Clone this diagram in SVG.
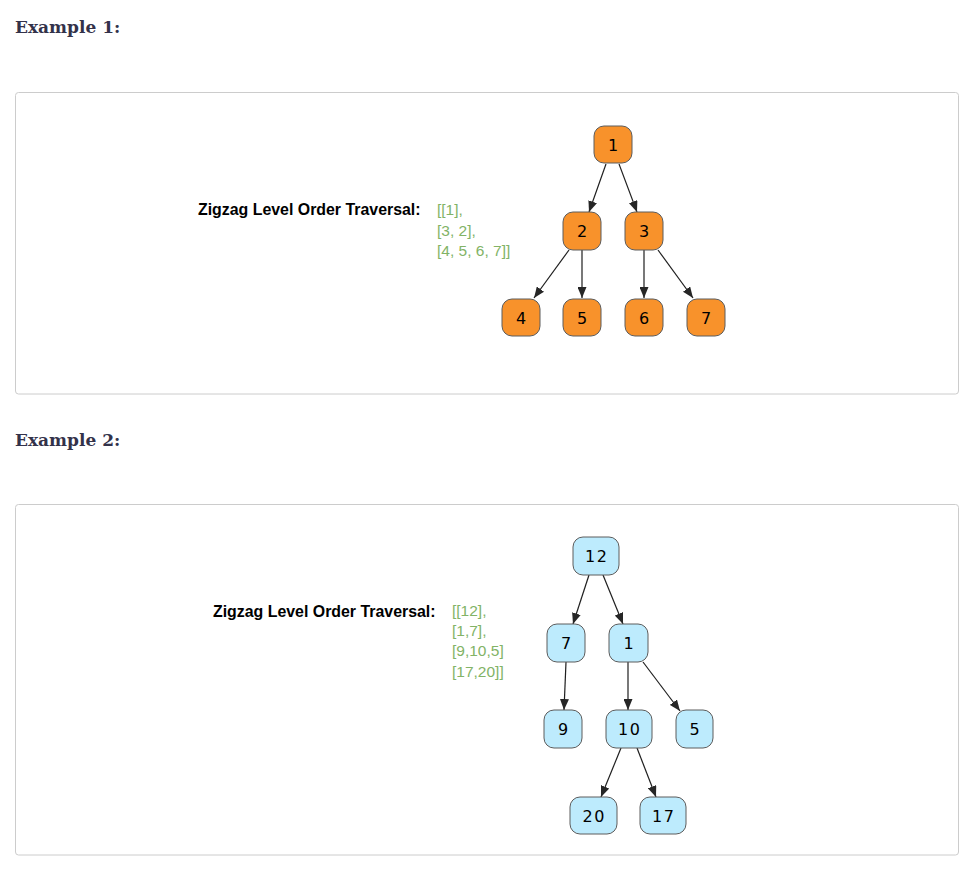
<svg xmlns="http://www.w3.org/2000/svg" width="972" height="888" viewBox="0 0 972 888">
<style>
.bg{fill:#ffffff}
.frame{fill:#ffffff;stroke:#cccccc;stroke-width:1}
.heading{font-family:"DejaVu Serif","Liberation Serif",serif;font-weight:bold;font-size:17px;fill:#33324a}
.label{font-family:"Liberation Sans",Arial,sans-serif;font-weight:bold;font-size:15.9px;fill:#000000}
.result{font-family:"Liberation Sans",Arial,sans-serif;font-size:15.5px;fill:#82b366}
.orange rect{fill:#f8922b;stroke:#5c5c5c;stroke-width:1}
.blue rect{fill:#bdebfd;stroke:#5c5c5c;stroke-width:1}
.node text{font-family:"DejaVu Sans",Verdana,sans-serif;font-size:16px;fill:#000000;text-anchor:middle}
.two{letter-spacing:1.5px}
.edge{stroke:#1f1f1f;stroke-width:1.2;fill:none;marker-end:url(#arrow)}
</style>
<defs>
<marker id="arrow" markerUnits="userSpaceOnUse" markerWidth="11" markerHeight="9" refX="11" refY="4.5" orient="auto">
<path d="M0,0 L11,4.5 L0,9 z" fill="#262626"/>
</marker>
</defs>
<rect class="bg" x="0" y="0" width="972" height="888"/>
<text class="heading" x="15" y="33">Example 1:</text>
<rect class="frame" x="15.5" y="92.5" width="943" height="301.5" rx="3"/>
<text class="heading" x="15" y="446">Example 2:</text>
<rect class="frame" x="15.5" y="504.5" width="943" height="350.5" rx="3"/>

<g id="label1">
<text class="label" x="198" y="215">Zigzag Level Order Traversal:</text>
<text class="result" x="437" y="215">[[1],</text>
<text class="result" x="437" y="235.5">[3, 2],</text>
<text class="result" x="437" y="256">[4, 5, 6, 7]]</text>
</g>
<g id="label2">
<text class="label" x="213" y="616.5">Zigzag Level Order Traversal:</text>
<text class="result" x="452" y="616">[[12],</text>
<text class="result" x="452" y="636.2">[1,7],</text>
<text class="result" x="452" y="656.4">[9,10,5]</text>
<text class="result" x="452" y="676.6">[17,20]]</text>
</g>

<g id="connectors">
<line class="edge" x1="606" y1="164" x2="589" y2="212"/>
<line class="edge" x1="619" y1="164" x2="637" y2="212"/>
<line class="edge" x1="569" y1="250" x2="534" y2="298"/>
<line class="edge" x1="582" y1="250" x2="582" y2="298"/>
<line class="edge" x1="644" y1="250" x2="644" y2="298"/>
<line class="edge" x1="658" y1="250" x2="693" y2="298"/>
<line class="edge" x1="589" y1="575" x2="573" y2="624"/>
<line class="edge" x1="603" y1="575" x2="623" y2="624"/>
<line class="edge" x1="566" y1="662" x2="564" y2="710"/>
<line class="edge" x1="628" y1="662" x2="628" y2="710"/>
<line class="edge" x1="643" y1="662" x2="680" y2="711"/>
<line class="edge" x1="621" y1="748" x2="601" y2="797"/>
<line class="edge" x1="637" y1="748" x2="656" y2="797"/>
</g>

<g id="e1n1" class="node orange"><rect x="594" y="126" width="38" height="37" rx="10"/><text x="613" y="150.5">1</text></g>
<g id="e1n2" class="node orange"><rect x="563" y="212" width="38" height="38" rx="10"/><text x="582" y="237">2</text></g>
<g id="e1n3" class="node orange"><rect x="625" y="212" width="38" height="38" rx="10"/><text x="644" y="237">3</text></g>
<g id="e1n4" class="node orange"><rect x="502" y="299" width="38" height="37" rx="10"/><text x="521" y="323.5">4</text></g>
<g id="e1n5" class="node orange"><rect x="563" y="299" width="38" height="37" rx="10"/><text x="582" y="323.5">5</text></g>
<g id="e1n6" class="node orange"><rect x="625" y="299" width="38" height="37" rx="10"/><text x="644" y="323.5">6</text></g>
<g id="e1n7" class="node orange"><rect x="687" y="299" width="38" height="37" rx="10"/><text x="706" y="323.5">7</text></g>

<g id="e2n12" class="node blue"><rect x="573" y="537" width="46" height="38" rx="10"/><text class="two" x="596.8" y="562">12</text></g>
<g id="e2n7" class="node blue"><rect x="547" y="624" width="38" height="38" rx="10"/><text x="566" y="649">7</text></g>
<g id="e2n1" class="node blue"><rect x="609" y="624" width="39" height="38" rx="10"/><text x="628.5" y="649">1</text></g>
<g id="e2n9" class="node blue"><rect x="544" y="710" width="38" height="38" rx="10"/><text x="563" y="735">9</text></g>
<g id="e2n10" class="node blue"><rect x="606" y="710" width="46" height="38" rx="10"/><text class="two" x="629.8" y="735">10</text></g>
<g id="e2n5" class="node blue"><rect x="676" y="710" width="37" height="38" rx="10"/><text x="694.5" y="735">5</text></g>
<g id="e2n20" class="node blue"><rect x="570" y="797" width="47" height="37" rx="10"/><text class="two" x="594.3" y="821.5">20</text></g>
<g id="e2n17" class="node blue"><rect x="640" y="797" width="46" height="37" rx="10"/><text class="two" x="663.8" y="821.5">17</text></g>
</svg>
